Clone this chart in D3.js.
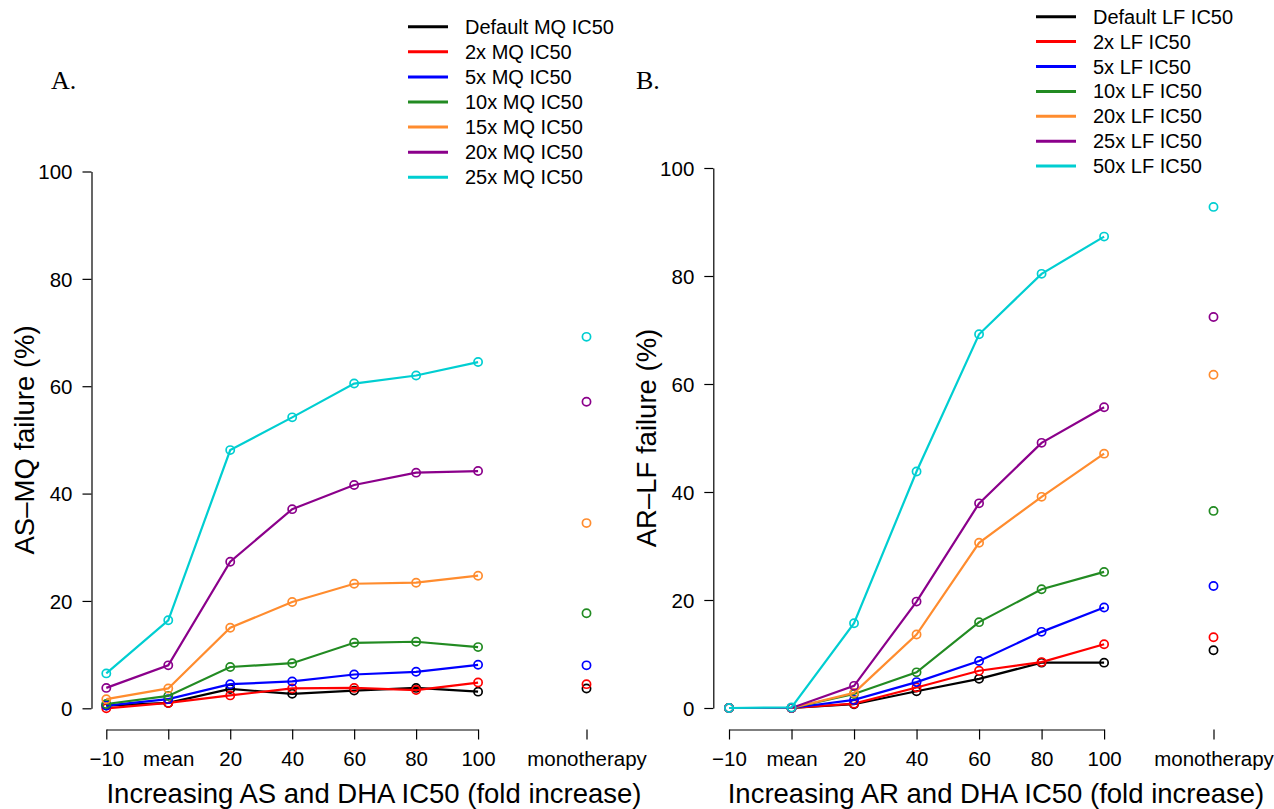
<!DOCTYPE html>
<html>
<head>
<meta charset="utf-8">
<script src="https://cdn.jsdelivr.net/npm/d3@7"></script>
<style>
  html, body { margin: 0; padding: 0; background: #fff; }
  svg text { font-family: "Liberation Sans", Arial, Helvetica, sans-serif; fill: #000; }
</style>
</head>
<body>
<svg id="chart" width="1274" height="809"></svg>
<script>
// ---------- data ----------
const categories = ["\u221210", "mean", "20", "40", "60", "80", "100"];
const monoLabel = "monotherapy";
const yTicks = [0, 20, 40, 60, 80, 100];
const colors = ["#000000", "#ff0000", "#0000ff", "#228b22", "#ff8c2e", "#8b008b", "#00ced1"];

const seriesNamesA = ["Default MQ IC50", "2x MQ IC50", "5x MQ IC50", "10x MQ IC50", "15x MQ IC50", "20x MQ IC50", "25x MQ IC50"];
const valuesA = [
  [0.5, 1.0, 3.6, 2.7, 3.3, 3.8, 3.1],
  [0.0, 1.0, 2.4, 3.7, 3.8, 3.4, 4.8],
  [0.5, 1.7, 4.5, 5.0, 6.3, 6.8, 8.1],
  [0.8, 2.3, 7.7, 8.4, 12.2, 12.4, 11.4],
  [1.7, 3.7, 15.0, 19.8, 23.2, 23.4, 24.7],
  [3.8, 8.0, 27.3, 37.1, 41.6, 43.9, 44.2],
  [6.5, 16.4, 48.1, 54.2, 60.5, 62.0, 64.5]
];
const monoA = [3.7, 4.5, 8.0, 17.7, 34.5, 57.1, 69.2];

const seriesNamesB = ["Default LF IC50", "2x LF IC50", "5x LF IC50", "10x LF IC50", "20x LF IC50", "25x LF IC50", "50x LF IC50"];
const valuesB = [
  [0, 0, 0.7, 3.1, 5.4, 8.4, 8.4],
  [0, 0, 0.8, 3.8, 6.9, 8.5, 11.8],
  [0, 0, 1.5, 4.8, 8.7, 14.1, 18.6],
  [0, 0, 2.6, 6.6, 15.9, 22.0, 25.2],
  [0, 0, 2.8, 13.6, 30.6, 39.1, 47.1],
  [0, 0, 4.1, 19.7, 37.9, 49.1, 55.7],
  [0, 0.1, 15.7, 43.8, 69.2, 80.4, 87.3]
];
const monoB = [10.7, 13.1, 22.6, 36.5, 61.7, 72.4, 92.8];

const MONO_POS = 7.75;

// ---------- drawing ----------
const svg = d3.select("#chart");

function panel(cfg) {
  const g = svg.append("g");
  const x = d3.scaleLinear().domain([0, MONO_POS]).range([cfg.x0, cfg.xMono]);
  const y = d3.scaleLinear().domain([0, 100]).range([cfg.y0, cfg.y100]);

  // y axis
  const yAxis = d3.axisLeft(y).tickValues(yTicks).tickSize(9).tickSizeOuter(0).tickPadding(10)
    .tickFormat(d3.format("d"));
  const ya = g.append("g").attr("transform", `translate(${cfg.axisX},0)`).call(yAxis);
  ya.selectAll("text").style("font-size", "20.5px").attr("dy", "0.36em");
  ya.selectAll("path, line").attr("stroke", "#000").attr("stroke-width", 1.2);

  // x axis (categories)
  const xCat = x.copy().domain([0, categories.length - 1]).range([x(0), x(categories.length - 1)]);
  const xAxis = d3.axisBottom(xCat).tickValues(d3.range(categories.length)).tickSize(10).tickSizeOuter(0)
    .tickPadding(12).tickFormat(i => categories[i]);
  const xa = g.append("g").attr("transform", `translate(0,${cfg.axisY})`).call(xAxis);
  xa.selectAll("text").style("font-size", "20.5px");
  xa.selectAll("path, line").attr("stroke", "#000").attr("stroke-width", 1.2);

  // x axis (monotherapy tick)
  const xm = g.append("g").attr("transform", `translate(0,${cfg.axisY})`)
    .call(d3.axisBottom(x).tickValues([MONO_POS]).tickSize(10).tickPadding(12).tickFormat(() => monoLabel));
  xm.select(".domain").remove();
  xm.selectAll("text").style("font-size", "20.5px");
  xm.selectAll("line").attr("stroke", "#000").attr("stroke-width", 1.2);

  const line = d3.line().x((d, i) => x(i)).y(d => y(d));

  cfg.values.forEach((vals, s) => {
    g.append("path").datum(vals).attr("d", line)
      .attr("fill", "none").attr("stroke", colors[s]).attr("stroke-width", 2.2);
    g.selectAll(null).data(vals).enter().append("circle")
      .attr("cx", (d, i) => x(i)).attr("cy", d => y(d)).attr("r", 4.1)
      .attr("fill", "none").attr("stroke", colors[s]).attr("stroke-width", 1.7);
  });
  g.selectAll(null).data(cfg.mono).enter().append("circle")
    .attr("cx", x(MONO_POS)).attr("cy", d => y(d)).attr("r", 4.1)
    .attr("fill", "none").attr("stroke", (d, i) => colors[i]).attr("stroke-width", 1.7);

  // axis titles
  g.append("text").attr("x", cfg.xTitleX).attr("y", 803).attr("text-anchor", "middle")
    .style("font-size", "27.5px").text(cfg.xTitle);
  g.append("text").attr("transform", `translate(${cfg.yTitleX},${(cfg.y0 + cfg.y100) / 2}) rotate(-90)`)
    .attr("text-anchor", "middle").style("font-size", "27.5px").text(cfg.yTitle);

  // panel label
  g.append("text").attr("x", cfg.labelX).attr("y", 89)
    .style("font-family", "'Liberation Serif', 'Times New Roman', serif").style("font-size", "26px")
    .text(cfg.label);

  // legend
  const lg = g.append("g");
  cfg.names.forEach((name, s) => {
    const yy = cfg.legY + s * cfg.legStep;
    lg.append("line").attr("x1", cfg.legX).attr("x2", cfg.legX + 40).attr("y1", yy).attr("y2", yy)
      .attr("stroke", colors[s]).attr("stroke-width", 3);
    lg.append("text").attr("x", cfg.legX + 57).attr("y", yy).attr("dy", "0.35em")
      .style("font-size", "20px").text(name);
  });
}

panel({
  x0: 106.3, xMono: 586.5, y0: 708.3, y100: 171.5, axisX: 91.5, axisY: 729.5,
  values: valuesA, mono: monoA, names: seriesNamesA,
  xTitle: "Increasing AS and DHA IC50 (fold increase)", xTitleX: 374,
  yTitle: "AS\u2013MQ failure (%)", yTitleX: 34,
  label: "A.", labelX: 51, legX: 408, legY: 26.7, legStep: 25.1
});
panel({
  x0: 729, xMono: 1213.5, y0: 708, y100: 168, axisX: 713.3, axisY: 729.5,
  values: valuesB, mono: monoB, names: seriesNamesB,
  xTitle: "Increasing AR and DHA IC50 (fold increase)", xTitleX: 996,
  yTitle: "AR\u2013LF failure (%)", yTitleX: 656,
  label: "B.", labelX: 636, legX: 1036, legY: 16.7, legStep: 24.9
});
</script>
</body>
</html>
